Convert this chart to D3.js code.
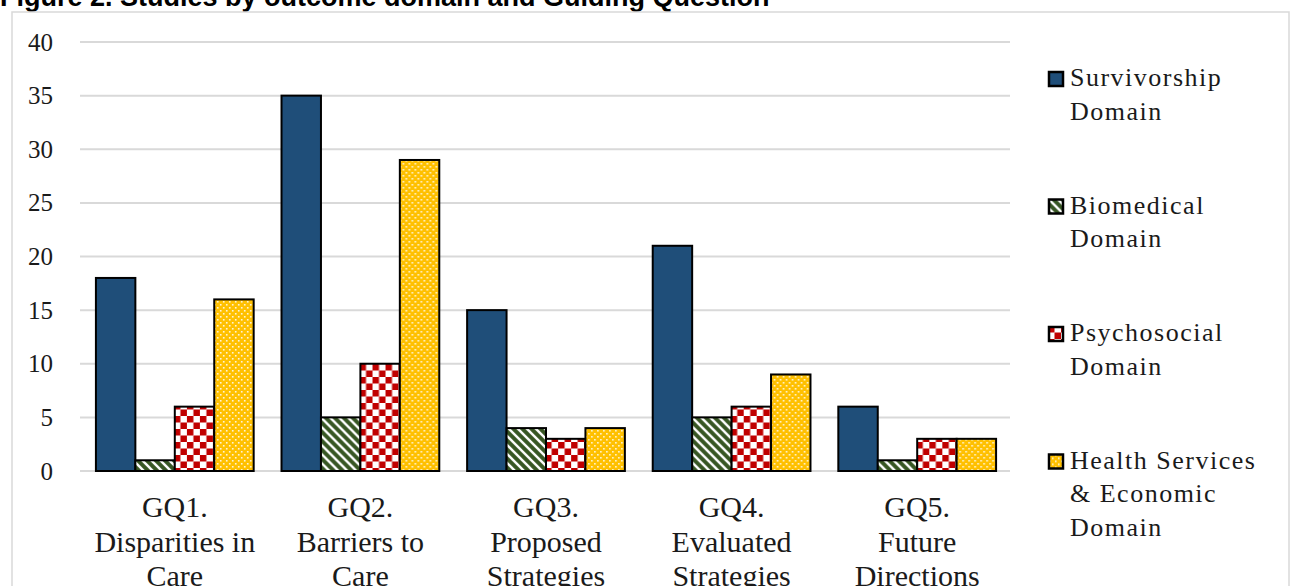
<!DOCTYPE html>
<meta charset="utf-8">
<style>
body { margin: 0; background: #fff; }
</style>
<body>
<script src="https://d3js.org/d3.v7.min.js"></script>
<script>

var categories = ["GQ1. Disparities in Care", "GQ2. Barriers to Care", "GQ3. Proposed Strategies",
                  "GQ4. Evaluated Strategies", "GQ5. Future Directions"];
var catLines = [["GQ1.", "Disparities in", "Care"], ["GQ2.", "Barriers to", "Care"],
                ["GQ3.", "Proposed", "Strategies"], ["GQ4.", "Evaluated", "Strategies"],
                ["GQ5.", "Future", "Directions"]];
var seriesNames = ["Survivorship Domain", "Biomedical Domain", "Psychosocial Domain", "Health Services & Economic Domain"];
var legendLines = [["Survivorship", "Domain"], ["Biomedical", "Domain"], ["Psychosocial", "Domain"],
                   ["Health Services", "& Economic", "Domain"]];
var survivorship = [18, 35, 15, 21, 6];
var biomedical = [1, 5, 4, 5, 1];
var psychosocial = [6, 10, 3, 6, 3];
var healthServices = [16, 29, 4, 9, 3];
var yTicks = [0, 5, 10, 15, 20, 25, 30, 35, 40];

var series = [survivorship, biomedical, psychosocial, healthServices];
var serif = "'Liberation Serif'";

var width = 1291, height = 586;
var svg = d3.select("body").append("svg")
    .attr("width", width)
    .attr("height", height);

// patterns
var defs = svg.append("defs");
var p1 = defs.append("pattern").attr("id", "stripe").attr("patternUnits", "userSpaceOnUse")
    .attr("width", 9).attr("height", 9);
p1.append("rect").attr("width", 9).attr("height", 9).attr("fill", "#375623");
p1.append("path").attr("d", "M-2,-2 L11,11 M-2,7 L2,11 M7,-2 L11,2")
    .attr("stroke", "#fff").attr("stroke-width", 2.4);

var p2 = defs.append("pattern").attr("id", "check").attr("patternUnits", "userSpaceOnUse")
    .attr("width", 13).attr("height", 13);
p2.append("rect").attr("width", 13).attr("height", 13).attr("fill", "#fff");
p2.append("rect").attr("width", 6.5).attr("height", 6.5).attr("fill", "#c00000");
p2.append("rect").attr("x", 6.5).attr("y", 6.5).attr("width", 6.5).attr("height", 6.5).attr("fill", "#c00000");

var p3 = defs.append("pattern").attr("id", "dots").attr("patternUnits", "userSpaceOnUse")
    .attr("width", 6).attr("height", 6);
p3.append("rect").attr("width", 6).attr("height", 6).attr("fill", "#ffc000");
p3.append("rect").attr("x", 1).attr("y", 1).attr("width", 1.6).attr("height", 1.6).attr("fill", "#fff").attr("opacity", 0.85);
p3.append("rect").attr("x", 4).attr("y", 4).attr("width", 1.6).attr("height", 1.6).attr("fill", "#fff").attr("opacity", 0.85);

var fills = ["#1f4e79", "url(#stripe)", "url(#check)", "url(#dots)"];

// title (cropped at top) and frame
svg.append("text")
    .attr("x", 0).attr("y", 6)
    .style("font-family", "'Liberation Sans', Arial, sans-serif")
    .style("font-weight", "bold").style("font-size", "27px")
    .text("Figure 2. Studies by outcome domain and Guiding Question");

svg.append("rect")
    .attr("x", 12).attr("y", 12).attr("width", 1277).attr("height", 600)
    .attr("fill", "none").attr("stroke", "#d9d9d9").attr("stroke-width", 1.5);

var x0 = d3.scaleBand().domain(categories).range([82, 1010])
    .paddingInner(0.15).paddingOuter(0.075);
var x1 = d3.scaleBand().domain(d3.range(4)).range([0, x0.bandwidth()]);
var y = d3.scaleLinear().domain([0, 40]).range([471, 42]);

// grid
svg.append("g").selectAll("line").data(yTicks).join("line")
    .attr("x1", 80).attr("x2", 1010)
    .attr("y1", d => y(d)).attr("y2", d => y(d))
    .attr("stroke", "#d9d9d9").attr("stroke-width", 2);

var yAxis = svg.append("g").attr("transform", "translate(80,0)")
    .call(d3.axisLeft(y).tickValues(yTicks).tickSize(0).tickPadding(27));
yAxis.select(".domain").remove();
yAxis.attr("font-family", "Liberation Serif").attr("font-size", 25);
yAxis.selectAll("text")
    .style("font-family", serif).style("font-size", "25px").attr("fill", "#1a1a1a");

// bars
var groups = svg.append("g").selectAll("g").data(categories).join("g")
    .attr("transform", d => "translate(" + x0(d) + ",0)");
groups.selectAll("rect")
    .data((d, i) => series.map((s, k) => ({k: k, v: s[i]})))
    .join("rect")
    .attr("x", d => x1(d.k))
    .attr("y", d => y(d.v))
    .attr("width", x1.bandwidth())
    .attr("height", d => y(0) - y(d.v))
    .attr("fill", d => fills[d.k])
    .attr("stroke", "#000").attr("stroke-width", 2);

// category labels
var cat = svg.append("g").selectAll("text").data(categories).join("text")
    .attr("text-anchor", "middle")
    .attr("x", d => x0(d) + x0.bandwidth() / 2)
    .attr("y", 517)
    .attr("fill", "#1a1a1a")
    .style("font-family", serif)
    .style("font-size", "30px");
cat.each(function(d, i) {
  d3.select(this).selectAll("tspan").data(catLines[i]).join("tspan")
    .attr("x", x0(d) + x0.bandwidth() / 2)
    .attr("dy", (t, j) => j === 0 ? 0 : 34.5)
    .text(t => t);
});

// legend
var leg = svg.append("g").selectAll("g").data(seriesNames).join("g")
    .attr("transform", (d, i) => "translate(1048," + (71 + i * 127.5) + ")");
leg.append("rect").attr("x", 1).attr("y", 1).attr("width", 14).attr("height", 14)
    .attr("fill", (d, i) => fills[i]).attr("stroke", "#000").attr("stroke-width", 2.5);
leg.append("text").attr("x", 22).attr("y", 15)
    .attr("fill", "#1a1a1a")
    .style("font-family", serif).style("font-size", "26px").style("letter-spacing", "1.5px")
  .each(function(d, i) {
    d3.select(this).selectAll("tspan").data(legendLines[i]).join("tspan")
      .attr("x", 22).attr("dy", (t, j) => j === 0 ? 0 : 33.5).text(t => t);
  });

</script>
